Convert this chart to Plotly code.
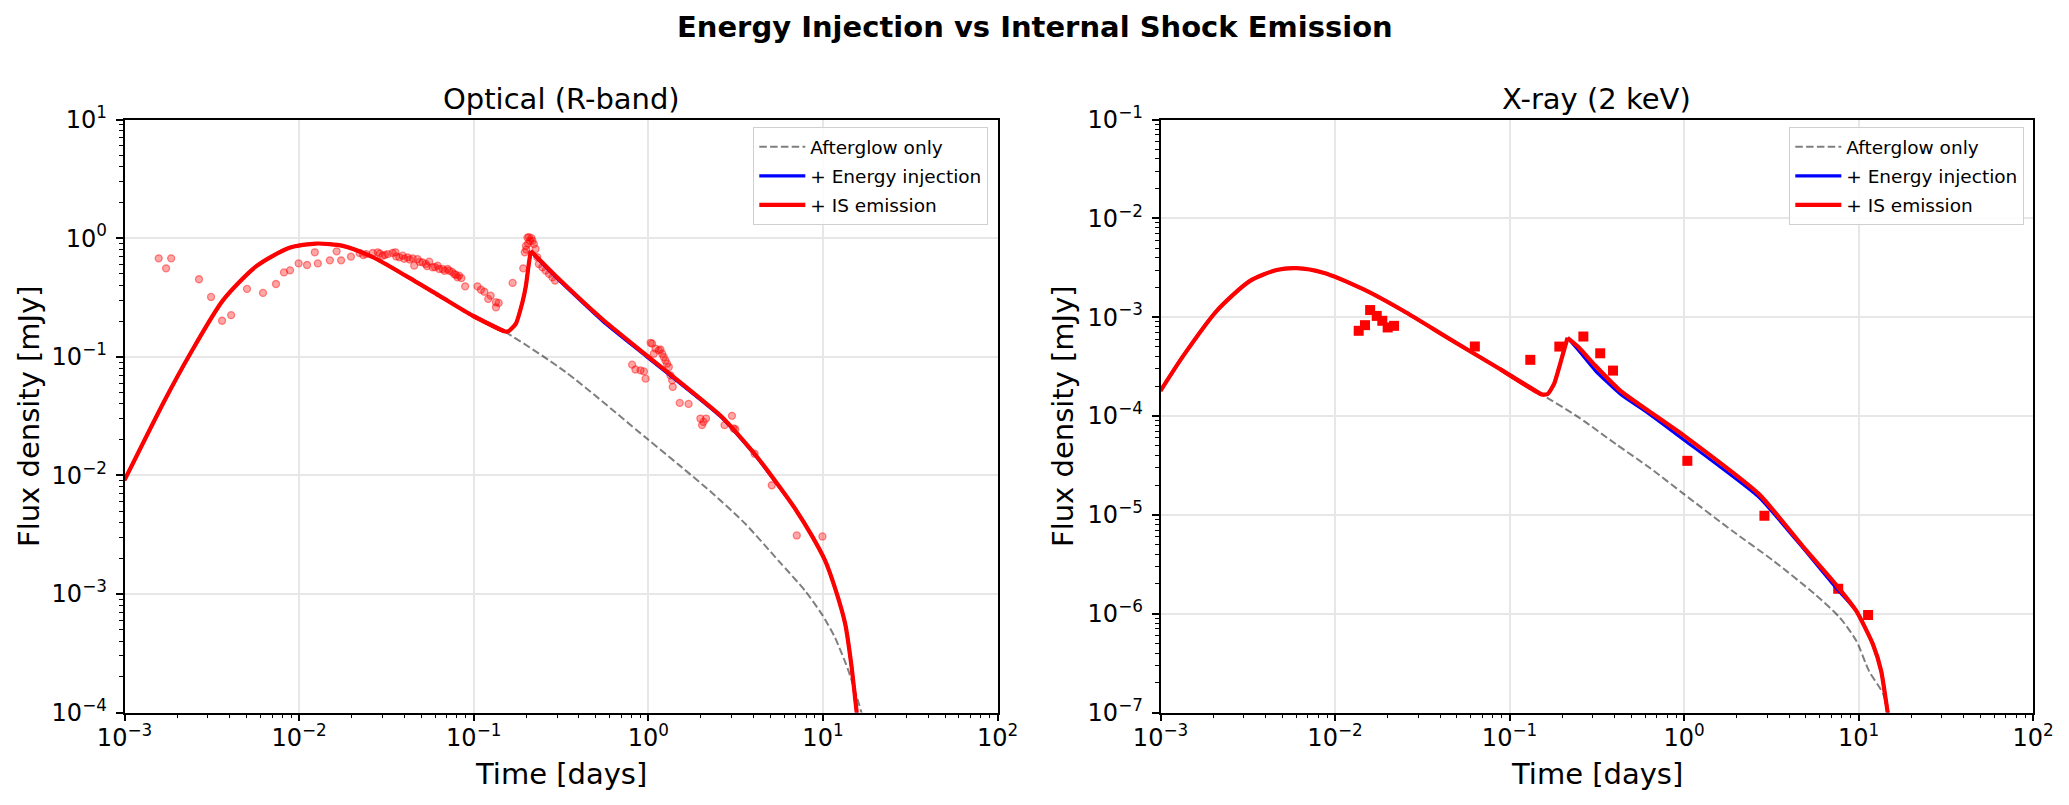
import plotly.graph_objects as go

W, H = 2069, 805
FONT = "DejaVu Sans"

# ---------------- Optical (R-band) observations ----------------
opt_obs_t = [0.00157, 0.00173, 0.00185, 0.00267, 0.00313, 0.00362, 0.00408, 0.00503, 0.00621, 0.00737,
             0.00819, 0.00887, 0.00994, 0.0111, 0.0123, 0.0128, 0.0150, 0.0164, 0.0174, 0.0198,
             0.0222, 0.0233, 0.0242, 0.0264, 0.0282, 0.0290, 0.0301, 0.0310, 0.0322, 0.0343,
             0.0356, 0.0360, 0.0375, 0.0392, 0.0400, 0.0418, 0.0430, 0.0447, 0.0456, 0.0476,
             0.0490, 0.0509, 0.0532, 0.0540, 0.0556, 0.0581, 0.0600, 0.0621, 0.0635, 0.0664,
             0.0680, 0.0708, 0.0723, 0.0750, 0.0773, 0.0790, 0.0807, 0.0824, 0.0850, 0.0893,
             0.105, 0.110, 0.115, 0.121, 0.125, 0.134, 0.139, 0.134,
             0.167, 0.192, 0.196, 0.199, 0.200, 0.203, 0.205, 0.207, 0.210, 0.214,
             0.217, 0.221, 0.226, 0.231, 0.236, 0.247, 0.258, 0.270, 0.282, 0.292,
             0.807, 0.843, 0.902, 0.943, 0.964, 1.03, 1.05, 1.074, 1.099, 1.148,
             1.173, 1.20, 1.225, 1.253, 1.28, 1.31, 1.337, 1.368, 1.38, 1.513,
             1.70, 1.985, 2.03, 2.07, 2.14, 2.73, 3.01, 3.08, 3.15, 4.06,
             5.09, 7.08, 9.93]
opt_obs_f = [0.675, 0.556, 0.675, 0.45, 0.319, 0.201, 0.224, 0.373, 0.345, 0.41,
             0.514, 0.535, 0.612, 0.593, 0.759, 0.612, 0.649, 0.773, 0.649, 0.697,
             0.749, 0.72, 0.734, 0.749, 0.759, 0.74, 0.711, 0.72, 0.734, 0.749,
             0.759, 0.70, 0.689, 0.711, 0.67, 0.689, 0.66, 0.675, 0.586, 0.666,
             0.63, 0.625, 0.605, 0.58, 0.633, 0.568, 0.57, 0.586, 0.549, 0.549,
             0.53, 0.549, 0.531, 0.52, 0.498, 0.49, 0.467, 0.482, 0.46, 0.392,
             0.392, 0.367, 0.353, 0.307, 0.327, 0.288, 0.284, 0.261,
             0.419, 0.556, 0.76, 0.86, 0.80, 1.01, 0.90, 1.02, 0.95, 1.0,
             0.948, 0.89, 0.81, 0.69, 0.605, 0.568, 0.532, 0.499, 0.468, 0.439,
             0.0857, 0.078, 0.0767, 0.0752, 0.0653, 0.131, 0.129, 0.106, 0.117, 0.113,
             0.115, 0.106, 0.0993, 0.0931, 0.0873, 0.0818, 0.0697, 0.0632, 0.0556, 0.0408,
             0.040, 0.0301, 0.0265, 0.0282, 0.0301, 0.0265, 0.0317, 0.0248, 0.0245, 0.0152,
             0.00824, 0.00311, 0.00305]

# ---------------- Optical model curves ----------------
opt_early_t = [0.001, 0.0017, 0.00237, 0.00367, 0.00569, 0.00881, 0.0125, 0.0178, 0.0264, 0.0409,
               0.0634, 0.0984, 0.149]
opt_early_f = [0.0091, 0.043, 0.105, 0.30, 0.58, 0.83, 0.90, 0.86, 0.69, 0.48,
               0.327, 0.222, 0.164]

opt_after_t = [0.336, 0.977, 1.49, 2.32, 3.59, 5.57, 7.91, 9.84, 11.7, 14.0, 16.7, 18.0]
opt_after_f = [0.0743, 0.0205, 0.0123, 0.0071, 0.0039, 0.0019, 0.00106, 0.000675, 0.00043, 0.000224, 0.000097, 0.00006]

opt_rise_t = [0.158, 0.174, 0.190, 0.199, 0.206, 0.212]
opt_rise_f = [0.164, 0.189, 0.288, 0.397, 0.585, 0.78]

opt_is_t = [0.226, 0.294, 0.55, 0.977, 2.64, 4.10, 5.57, 6.94, 8.63, 10.3, 11.7, 13.4, 14.6, 15.6, 16.3]
opt_is_f = [0.711, 0.482, 0.205, 0.1026, 0.031, 0.0149, 0.0082, 0.0052, 0.0031, 0.0019, 0.00113, 0.00056, 0.00024, 0.0001, 0.00006]

opt_inj_t = [0.226, 0.294, 0.55, 0.977, 2.64, 4.10, 5.57, 6.94, 8.63, 10.3, 11.7, 13.4, 14.6, 15.6, 16.3]
opt_inj_f = [0.70, 0.47, 0.198, 0.100, 0.0305, 0.0147, 0.0081, 0.0052, 0.0031, 0.0019, 0.00113, 0.00056, 0.00024, 0.0001, 0.00006]

# ---------------- X-ray (2 keV) observations ----------------
xr_obs_t = [0.01367, 0.01486, 0.0159, 0.01735, 0.01867, 0.02004, 0.0218, 0.0633, 0.1316,
            0.193, 0.265, 0.331, 0.392, 1.045, 2.89, 7.65, 11.35]
xr_obs_f = [7.28e-4, 8.3e-4, 1.18e-3, 1.03e-3, 9.19e-4, 7.87e-4, 8.17e-4, 5.05e-4, 3.7e-4,
            5.04e-4, 6.37e-4, 4.31e-4, 2.88e-4, 3.52e-5, 9.77e-6, 1.79e-6, 9.68e-7]

# ---------------- X-ray model curves ----------------
xr_early_t = [0.001, 0.00135, 0.0021, 0.00326, 0.00463, 0.00603, 0.00857, 0.0145, 0.0246, 0.0455,
              0.0881, 0.153]
xr_early_f = [1.8e-4, 4.06e-4, 1.16e-3, 2.33e-3, 3.0e-3, 3.13e-3, 2.82e-3, 1.92e-3, 1.16e-3, 6.0e-4,
              2.99e-4, 1.65e-4]

xr_after_t = [0.249, 0.407, 0.631, 1.0, 1.89, 3.26, 5.63, 7.82, 9.73, 11.5, 13.9, 15.0]
xr_after_f = [9.7e-5, 5.2e-5, 3.02e-5, 1.62e-5, 6.89e-6, 3.42e-6, 1.57e-6, 9.1e-7, 5.28e-7, 2.62e-7, 1.52e-7, 8e-8]

xr_rise_t = [0.1655, 0.180, 0.200, 0.215]
xr_rise_f = [1.67e-4, 2.11e-4, 3.94e-4, 6.18e-4]

xr_is_t = [0.249, 0.31, 0.431, 1.0, 2.69, 5.05, 7.40, 9.73, 12.1, 13.5, 14.7, 15.2]
xr_is_f = [4.96e-4, 3.24e-4, 1.81e-4, 6.33e-5, 1.62e-5, 4.31e-6, 1.98e-6, 1.06e-6, 4.89e-7, 2.62e-7, 1.0e-7, 7e-8]

xr_inj_t = [0.249, 0.31, 0.431, 0.631, 1.0, 2.69, 5.05, 7.40, 9.73, 12.1, 13.5, 14.7, 15.2]
xr_inj_f = [4.59e-4, 2.88e-4, 1.67e-4, 1.05e-4, 5.72e-5, 1.5e-5, 4.15e-6, 1.84e-6, 1.06e-6, 4.89e-7, 2.62e-7, 1.0e-7, 7e-8]

x_decades = [-3, -2, -1, 0, 1, 2]
opt_y_decades = [-4, -3, -2, -1, 0, 1]
xr_y_decades = [-7, -6, -5, -4, -3, -2, -1]


def sup(n):
    return "10<sup>" + str(n).replace("-", "\u2212") + "</sup>"


def minor_vals(decs):
    vals = []
    for d in decs[:-1]:
        for m in range(2, 10):
            vals.append(m * 10.0 ** d)
    return vals


fig = go.Figure()

RED = "#ff0000"
BLUE = "#0000ff"
GRAY = "rgba(0,0,0,0.5)"
DASH = "7.5px,3.3px"
SM = 0.7


def add_panel(xa, ya, leg, obs_t, obs_f, early_t, early_f, after_t, after_f,
              rise_t, rise_f, inj_t, inj_f, is_t, is_f, marker):
    fig.add_trace(go.Scatter(x=obs_t, y=obs_f, mode="markers", xaxis=xa, yaxis=ya,
                             marker=marker, showlegend=False, legend=leg, hoverinfo="skip"))
    fig.add_trace(go.Scatter(x=early_t + after_t, y=early_f + after_f, mode="lines",
                             xaxis=xa, yaxis=ya, name="Afterglow only", legend=leg,
                             legendgroup=leg + "ag",
                             line=dict(color=GRAY, width=2, dash=DASH, shape="spline", smoothing=SM)))
    for name, col, wd, tail_t, tail_f in [("+ Energy injection", BLUE, 3.1, inj_t, inj_f),
                                           ("+ IS emission", RED, 4.2, is_t, is_f)]:
        fig.add_trace(go.Scatter(x=early_t, y=early_f, mode="lines", xaxis=xa, yaxis=ya,
                                 name=name, legend=leg, legendgroup=leg + name,
                                 line=dict(color=col, width=wd, shape="spline", smoothing=SM)))
        fig.add_trace(go.Scatter(x=early_t[-2:] + rise_t, y=early_f[-2:] + rise_f, mode="lines",
                                 xaxis=xa, yaxis=ya, showlegend=False, legend=leg,
                                 legendgroup=leg + name,
                                 line=dict(color=col, width=wd, shape="spline", smoothing=0.5)))
        fig.add_trace(go.Scatter(x=rise_t[-1:] + tail_t, y=rise_f[-1:] + tail_f, mode="lines",
                                 xaxis=xa, yaxis=ya, showlegend=False, legend=leg,
                                 legendgroup=leg + name,
                                 line=dict(color=col, width=wd, shape="spline", smoothing=0.5)))


add_panel("x", "y", "legend", opt_obs_t, opt_obs_f, opt_early_t, opt_early_f,
          opt_after_t, opt_after_f, opt_rise_t, opt_rise_f, opt_inj_t, opt_inj_f,
          opt_is_t, opt_is_f,
          dict(symbol="circle", size=7, color="rgba(255,0,0,0.35)",
               line=dict(color="rgba(255,0,0,0.45)", width=1.3)))
add_panel("x2", "y2", "legend2", xr_obs_t, xr_obs_f, xr_early_t, xr_early_f,
          xr_after_t, xr_after_f, xr_rise_t, xr_rise_f, xr_inj_t, xr_inj_f,
          xr_is_t, xr_is_f,
          dict(symbol="square", size=10, color=RED, line=dict(width=0)))

axis_common = dict(
    type="log", showline=True, linecolor="black", linewidth=1.6, mirror=True,
    showgrid=True, gridcolor="#e7e7e7", gridwidth=1.6, zeroline=False, automargin=False,
    ticks="outside", ticklen=7, tickwidth=1.6, tickcolor="black",
    tickfont=dict(family=FONT, size=24, color="black"),
)

x0a, x1a = 124.5 / W, 997.6 / W
x0b, x1b = 1160.5 / W, 2033.0 / W
y0, y1 = 1 - 712.5 / H, 1 - 119.5 / H

minor_x = dict(tickvals=minor_vals(x_decades), ticks="outside", ticklen=4,
               tickwidth=1.2, tickcolor="black", showgrid=False)

legend_common = dict(yanchor="top", y=1 - 127 / H, xanchor="right",
                     bgcolor="rgba(255,255,255,0.85)", bordercolor="#d0d0d0", borderwidth=1.3,
                     font=dict(family=FONT, size=18.5, color="black"),
                     traceorder="grouped", tracegroupgap=2, itemwidth=46)

fig.update_layout(
    width=W, height=H, margin=dict(l=0, r=0, t=0, b=0, autoexpand=False),
    paper_bgcolor="white", plot_bgcolor="white",
    font=dict(family=FONT, color="black"),
    xaxis=dict(axis_common, domain=[x0a, x1a], anchor="y", range=[-3, 2], ticklabelstandoff=-4,
               tickvals=[10.0 ** d for d in x_decades], ticktext=[sup(d) for d in x_decades],
               minor=minor_x),
    yaxis=dict(axis_common, domain=[y0, y1], anchor="x", range=[-4, 1], ticklabelstandoff=4,
               tickvals=[10.0 ** d for d in opt_y_decades], ticktext=[sup(d) for d in opt_y_decades],
               minor=dict(tickvals=minor_vals(opt_y_decades), ticks="outside", ticklen=4,
                          tickwidth=1.2, tickcolor="black", showgrid=False)),
    xaxis2=dict(axis_common, domain=[x0b, x1b], anchor="y2", range=[-3, 2], ticklabelstandoff=-4,
                tickvals=[10.0 ** d for d in x_decades], ticktext=[sup(d) for d in x_decades],
                minor=minor_x),
    yaxis2=dict(axis_common, domain=[y0, y1], anchor="x2", range=[-7, -1], ticklabelstandoff=4,
                tickvals=[10.0 ** d for d in xr_y_decades], ticktext=[sup(d) for d in xr_y_decades],
                minor=dict(tickvals=minor_vals(xr_y_decades), ticks="outside", ticklen=4,
                           tickwidth=1.2, tickcolor="black", showgrid=False)),
    legend=dict(legend_common, x=988 / W),
    legend2=dict(legend_common, x=2024 / W),
)

ann = []
ann.append(dict(text="<b>Energy Injection vs Internal Shock Emission</b>", x=0.5, y=1 - 27 / H,
                xref="paper", yref="paper", xanchor="center", yanchor="middle", showarrow=False,
                font=dict(family=FONT, size=29, color="black")))
for xc, t in [((x0a + x1a) / 2, "Optical (R-band)"), ((x0b + x1b) / 2, "X-ray (2 keV)")]:
    ann.append(dict(text=t, x=xc, y=1 - 99 / H, xref="paper", yref="paper",
                    xanchor="center", yanchor="middle", showarrow=False,
                    font=dict(family=FONT, size=29, color="black")))
    ann.append(dict(text="Time [days]", x=xc, y=1 - 774 / H, xref="paper", yref="paper",
                    xanchor="center", yanchor="middle", showarrow=False,
                    font=dict(family=FONT, size=29, color="black")))
for xl in [29 / W, 1063 / W]:
    ann.append(dict(text="Flux density [mJy]", x=xl, y=(y0 + y1) / 2, xref="paper", yref="paper",
                    xanchor="center", yanchor="middle", textangle=-90, showarrow=False,
                    font=dict(family=FONT, size=29, color="black")))
fig.update_layout(annotations=ann)

fig.write_html("out.html")
